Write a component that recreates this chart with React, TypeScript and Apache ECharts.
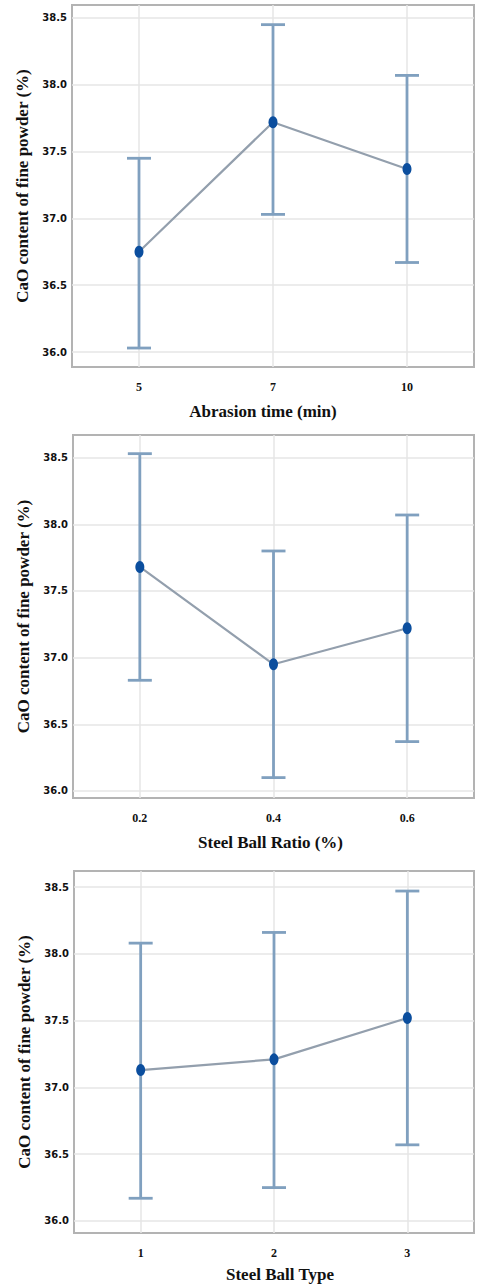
import React, { useEffect, useRef } from "react";
import * as echarts from "echarts";

const yTicks = [36.0, 36.5, 37.0, 37.5, 38.0, 38.5];

const timeCats = ["5", "7", "10"];
const timeMean = [36.75, 37.72, 37.37];
const timeLow = [36.03, 37.03, 36.67];
const timeHigh = [37.45, 38.45, 38.07];

const ratioCats = ["0.2", "0.4", "0.6"];
const ratioMean = [37.68, 36.95, 37.22];
const ratioLow = [36.83, 36.1, 36.37];
const ratioHigh = [38.53, 37.8, 38.07];

const typeCats = ["1", "2", "3"];
const typeMean = [37.13, 37.21, 37.52];
const typeLow = [36.17, 36.25, 36.57];
const typeHigh = [38.08, 38.16, 38.47];

const panels = [
  { name: "Abrasion time (min)", cats: timeCats, mean: timeMean, low: timeLow, high: timeHigh, top: 5, height: 362, left: 72, yMin: 35.888, yMax: 38.597, nameGap: 36, namePad: [0, 20, 0, 0] },
  { name: "Steel Ball Ratio (%)", cats: ratioCats, mean: ratioMean, low: ratioLow, high: ratioHigh, top: 435, height: 363, left: 73, yMin: 35.947, yMax: 38.67, nameGap: 36, namePad: [0, 6, 0, 0] },
  { name: "Steel Ball Type", cats: typeCats, mean: typeMean, low: typeLow, high: typeHigh, top: 871, height: 362, left: 74, yMin: 35.91, yMax: 38.62, nameGap: 33, namePad: [0, 0, 0, 12] },
];

const ERR = "#80a0bf";
const LINE = "#939fad";
const DOT = "#0b4e9e";
const GRIDLINE = "#e6e6e6";

export default function App() {
  const ref = useRef<HTMLDivElement>(null);
  useEffect(() => {
    if (!ref.current) return;
    const chart = echarts.init(ref.current, null, { renderer: "svg" });
    const grids: any[] = [];
    const xAxes: any[] = [];
    const yAxes: any[] = [];
    const series: any[] = [];
    panels.forEach((p, i) => {
      grids.push({
        left: p.left,
        right: 5,
        top: p.top,
        height: p.height,
        show: true,
        borderColor: "#b3b3b3",
        borderWidth: 2,
        backgroundColor: "#ffffff",
      });
      const xVals = p.cats.map((_, k) => k + 1);
      xAxes.push({
        type: "value",
        gridIndex: i,
        min: 0.5,
        max: 3.5,
        name: p.name,
        nameLocation: "middle",
        nameGap: p.nameGap,
        nameTextStyle: { fontFamily: "Liberation Serif", fontWeight: "bold", fontSize: 17, color: "#111", padding: p.namePad },
        axisLine: { show: false },
        axisTick: { show: false, customValues: xVals },
        axisLabel: {
          customValues: xVals,
          formatter: (v: number) => p.cats[Math.round(v) - 1] ?? "",
          fontFamily: "Liberation Serif",
          fontWeight: "bold",
          fontSize: 12,
          color: "#111",
          margin: 14,
        },
        splitLine: { show: true, lineStyle: { color: GRIDLINE, width: 1.5 } },
      });
      yAxes.push({
        type: "value",
        gridIndex: i,
        min: p.yMin,
        max: p.yMax,
        name: "CaO content of fine powder (%)",
        nameLocation: "middle",
        nameGap: 41,
        nameTextStyle: { fontFamily: "Liberation Serif", fontWeight: "bold", fontSize: 17, color: "#111" },
        axisLine: { show: false },
        axisTick: { show: false, customValues: yTicks },
        axisLabel: {
          customValues: yTicks,
          formatter: (v: number) => v.toFixed(1),
          fontFamily: "DejaVu Sans",
          fontWeight: "bold",
          fontSize: 10,
          color: "#111",
          margin: 5,
        },
        splitLine: { show: true, lineStyle: { color: GRIDLINE, width: 1.5 } },
      });
      series.push({
        type: "custom",
        xAxisIndex: i,
        yAxisIndex: i,
        z: 2,
        data: p.cats.map((_, k) => [k + 1, p.low[k], p.high[k]]),
        renderItem: (params: any, api: any) => {
          const lo = api.coord([api.value(0), api.value(1)]);
          const hi = api.coord([api.value(0), api.value(2)]);
          const hw = 12;
          const style = { stroke: ERR, lineWidth: 2.8 };
          return {
            type: "group",
            children: [
              { type: "line", shape: { x1: lo[0], y1: lo[1], x2: hi[0], y2: hi[1] }, style },
              { type: "line", shape: { x1: lo[0] - hw, y1: lo[1], x2: lo[0] + hw, y2: lo[1] }, style },
              { type: "line", shape: { x1: hi[0] - hw, y1: hi[1], x2: hi[0] + hw, y2: hi[1] }, style },
            ],
          };
        },
      });
      series.push({
        type: "line",
        xAxisIndex: i,
        yAxisIndex: i,
        z: 3,
        data: p.cats.map((_, k) => [k + 1, p.mean[k]]),
        lineStyle: { color: LINE, width: 2.2 },
        symbol: "circle",
        symbolSize: [9, 12],
        itemStyle: { color: DOT, borderWidth: 0 },
      });
    });
    chart.setOption({
      animation: false,
      backgroundColor: "#ffffff",
      grid: grids,
      xAxis: xAxes,
      yAxis: yAxes,
      series,
    });
    return () => chart.dispose();
  }, []);
  return (
    <div
      ref={ref}
      style={{ position: "absolute", left: 0, top: 0, width: 479, height: 1284 }}
    />
  );
}
